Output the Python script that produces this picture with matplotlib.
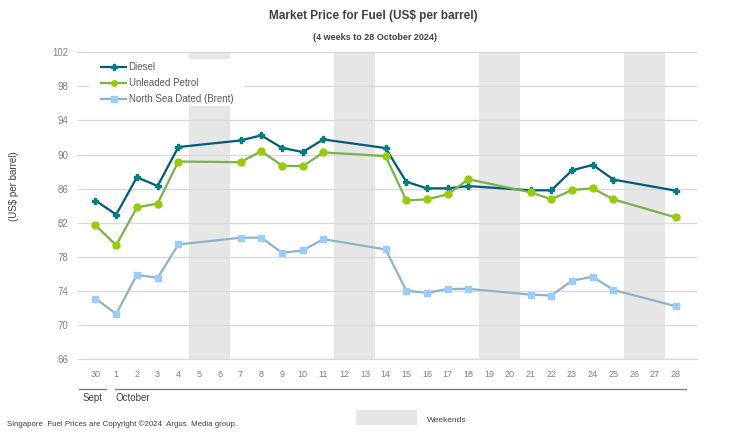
import matplotlib
matplotlib.use("Agg")
import matplotlib.pyplot as plt
from matplotlib.patches import Rectangle
from matplotlib.transforms import blended_transform_factory

plt.rcParams['font.family'] = ['Liberation Sans', 'DejaVu Sans']

# categories on the x axis (30 Sept .. 28 Oct)
day_labels = ["30"] + [str(d) for d in range(1, 29)]
# trading days (index into day_labels)
trade_days = ["30", "1", "2", "3", "4", "7", "8", "9", "10", "11", "14",
              "15", "16", "17", "18", "21", "22", "23", "24", "25", "28"]
weekends = [("5", "6"), ("12", "13"), ("19", "20"), ("26", "27")]

diesel = [84.6, 82.95, 87.33, 86.31, 90.88, 91.65, 92.25, 90.78, 90.3, 91.77, 90.76,
          86.8, 86.03, 86.03, 86.3, 85.8, 85.8, 88.15, 88.78, 87.06, 85.76]
petrol = [81.7, 79.35, 83.8, 84.25, 89.18, 89.1, 90.4, 88.7, 88.62, 90.25, 89.82,
          84.62, 84.74, 85.33, 87.1, 85.56, 84.74, 85.84, 86.03, 84.74, 82.62]
brent = [73.09, 71.29, 75.88, 75.53, 79.45, 80.23, 80.25, 78.47, 78.74, 80.07, 78.86,
         74.03, 73.76, 74.23, 74.23, 73.56, 73.45, 75.2, 75.65, 74.1, 72.2]

yticks = list(range(66, 103, 4))

W, H = 746, 438
fig = plt.figure(figsize=(W / 100, H / 100), dpi=100)
ax = fig.add_axes([85.1 / W, 1 - 359 / H, 611.9 / W, 306.7 / H])

idx = {d: i for i, d in enumerate(day_labels)}
x = [idx[d] for d in trade_days]

# weekend shading
for a, b in weekends:
    ax.axvspan(idx[a] - 0.5, idx[b] + 0.5, color="#e6e6e6", lw=0, zorder=0.2)

ax.plot(x, diesel, color="#005a78", lw=1.6, marker="P", ms=5,
        mfc="#007f80", mec="#007f80", label="Diesel", zorder=3)
ax.plot(x, petrol, color="#77b24a", lw=1.6, marker="o", ms=5,
        mfc="#99cc00", mec="#99cc00", label="Unleaded Petrol", zorder=3)
ax.plot(x, brent, color="#8db3c7", lw=1.6, marker="s", ms=4.5,
        mfc="#99ccff", mec="#99ccff", label="North Sea Dated (Brent)", zorder=3)

ax.set_xlim(-0.5, 29.03)
ax.set_ylim(66, 102)
ax.set_yticks(yticks)
ax.set_xticks(range(len(day_labels)))
ax.set_xticklabels(day_labels)
ax.grid(axis="y", color="#d9d9d9", lw=1)
ax.set_axisbelow(True)
for s in ["top", "right", "left"]:
    ax.spines[s].set_visible(False)
ax.spines["bottom"].set_color("#d9d9d9")
ax.tick_params(axis="y", length=6, color="#d9d9d9", labelsize=7, labelcolor="#808080", pad=6)
ax.tick_params(axis="x", length=0, labelsize=6.5, labelcolor="#808080", pad=8)

ax.set_ylabel("(US$ per barrel)", fontsize=7, color="#404040")
ax.yaxis.set_label_coords(-0.108, 0.565)

# white box behind the legend
ax.add_patch(Rectangle((89 / W, 1 - 106 / H), 155 / W, 47 / H, transform=fig.transFigure,
                       color="white", lw=0, zorder=4, clip_on=False))
leg = ax.legend(loc="upper left", bbox_to_anchor=(97.5 / W, 1 - 59 / H),
                bbox_transform=fig.transFigure, frameon=False,
                fontsize=7, handlelength=2.6, handletextpad=0.25,
                labelspacing=0.62, borderpad=0.35, borderaxespad=0)
leg.set_zorder(5)
for t in leg.get_texts():
    t.set_color("#595959")
for h in leg.legend_handles:
    h.set_markersize(4)

# month markers under the axis
tr = blended_transform_factory(ax.transData, fig.transFigure)
yl = 1 - 389 / H
ax.plot([-0.8, 0.5], [yl, yl], transform=tr, color="#808080", lw=1, clip_on=False)
ax.plot([0.94, 28.5], [yl, yl], transform=tr, color="#808080", lw=1, clip_on=False)
fig.text(82.5 / W, 1 - 398 / H, "Sept", fontsize=7, color="#404040", va="center")
fig.text(115 / W, 1 - 398 / H, "October", fontsize=7, color="#404040", va="center")

fig.text(373 / W, 1 - 16 / H, "Market Price for Fuel (US$ per barrel)", fontsize=8.5,
         fontweight="bold", color="#404040", ha="center", va="center")
fig.text(375 / W, 1 - 37 / H, "(4 weeks to 28 October 2024)", fontsize=6.5,
         fontweight="bold", color="#404040", ha="center", va="center")

fig.text(7 / W, 1 - 424 / H, "Singapore  Fuel Prices are Copyright \u00a92024  Argus  Media group.",
         fontsize=5.7, color="#404040", va="center")
fig.patches.append(Rectangle((356 / W, 1 - 425 / H), 61 / W, 15 / H,
                             transform=fig.transFigure, color="#e6e6e6", lw=0))
fig.text(427 / W, 1 - 420 / H, "Weekends", fontsize=6, color="#404040", va="center")

fig.savefig("out.png", dpi=100)
